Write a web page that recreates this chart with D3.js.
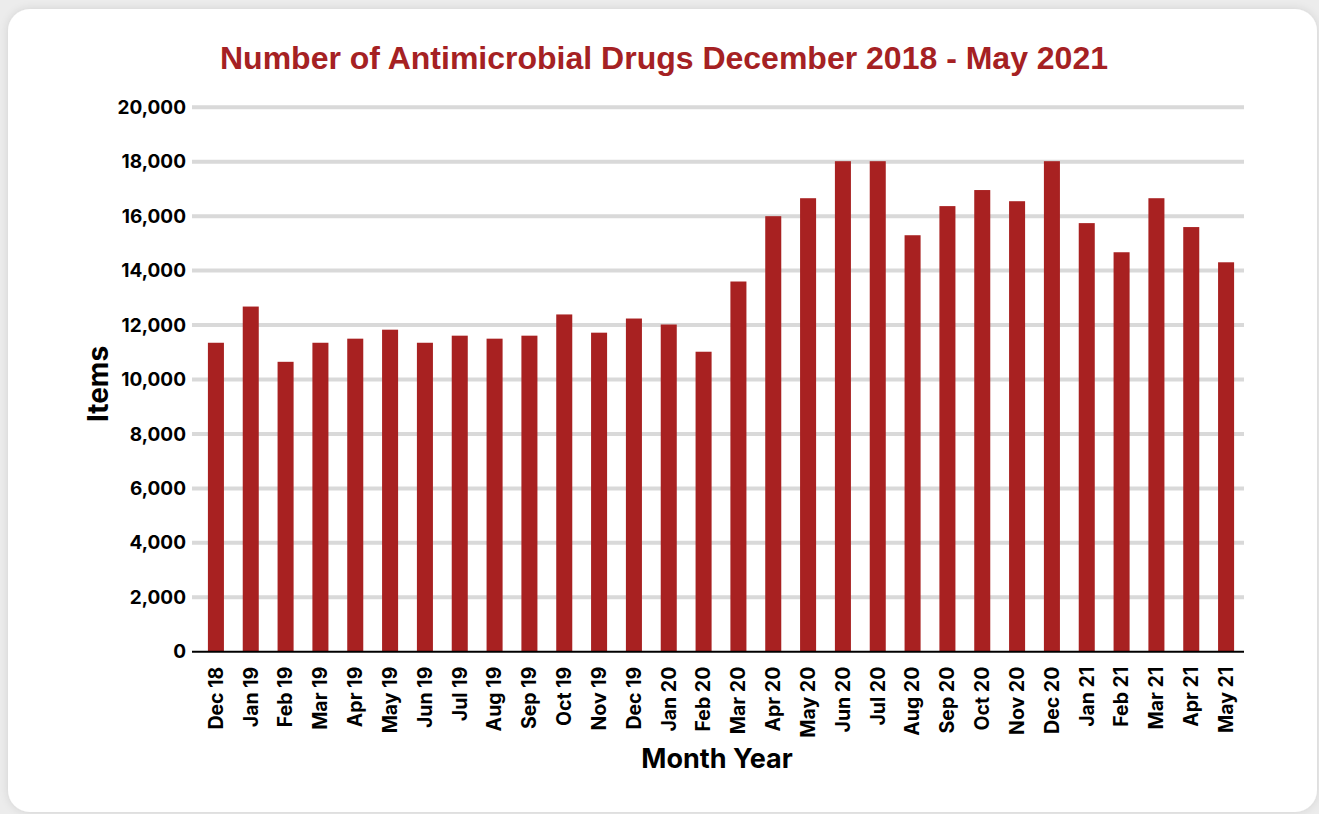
<!DOCTYPE html>
<html><head><meta charset="utf-8">
<script src="https://cdn.jsdelivr.net/npm/d3@7"></script>
<style>
html,body{margin:0;padding:0;background:#e9e9e9;width:1319px;height:814px;overflow:hidden;}
</style></head>
<body>
<svg id="chart" width="1319" height="814"></svg>
<script>
const categories = ["Dec 18","Jan 19","Feb 19","Mar 19","Apr 19","May 19","Jun 19","Jul 19","Aug 19","Sep 19","Oct 19","Nov 19","Dec 19","Jan 20","Feb 20","Mar 20","Apr 20","May 20","Jun 20","Jul 20","Aug 20","Sep 20","Oct 20","Nov 20","Dec 20","Jan 21","Feb 21","Mar 21","Apr 21","May 21"];
const items = [11350,12680,10650,11350,11500,11830,11350,11610,11500,11610,12390,11720,12240,12020,11020,13600,16000,16660,18020,18020,15300,16370,16960,16550,18020,15745,14675,16660,15600,14306];
const yTicks = [0,2000,4000,6000,8000,10000,12000,14000,16000,18000,20000];
const title = "Number of Antimicrobial Drugs December 2018 - May 2021";
const xTitle = "Month Year";
const yTitle = "Items";

const svg = d3.select("#chart");
const defs = svg.append("defs");
const f = defs.append("filter").attr("id","sh").attr("x","-5%").attr("y","-5%").attr("width","110%").attr("height","110%");
f.append("feGaussianBlur").attr("in","SourceAlpha").attr("stdDeviation",4);
f.append("feOffset").attr("dx",0).attr("dy",0).attr("result","b");
f.append("feFlood").attr("flood-color","#000").attr("flood-opacity",0.12);
f.append("feComposite").attr("in2","b").attr("operator","in");
const fm = f.append("feMerge"); fm.append("feMergeNode"); fm.append("feMergeNode").attr("in","SourceGraphic");

svg.append("rect").attr("x",0).attr("y",0).attr("width",1319).attr("height",814).attr("fill","#ececec");
svg.append("rect").attr("x",8).attr("y",9).attr("width",1309).attr("height",803).attr("rx",22).attr("fill","#fff").attr("filter","url(#sh)");

const x = d3.scaleBand().domain(categories).range([198.5,1243.5]).paddingInner(0.54).paddingOuter(0.27);
const y = d3.scaleLinear().domain([0,20000]).range([651.7,107.3]);

const font = "Inter, 'Liberation Sans', Arial, sans-serif";

// gridlines
svg.append("g").selectAll("line").data(yTicks.filter(d=>d>0)).join("line")
  .attr("x1",192).attr("x2",1244)
  .attr("y1",d=>y(d)).attr("y2",d=>y(d))
  .attr("stroke","#d9d9d9").attr("stroke-width",4);

// bars
svg.append("g").selectAll("rect").data(items).join("rect")
  .attr("x",(d,i)=>x(categories[i]))
  .attr("width",x.bandwidth())
  .attr("y",d=>y(d))
  .attr("height",d=>y(0)-y(d))
  .attr("fill","#a82121");

// y axis
const yAxis = d3.axisLeft(y).tickValues(yTicks).tickSize(0).tickPadding(6).tickFormat(d3.format(","));
const gy = svg.append("g").attr("transform","translate(192,0)").call(yAxis);
gy.select(".domain").remove();
gy.selectAll("text").attr("font-family",font).attr("font-weight","bold").attr("font-size",19).attr("fill","#000");

// x axis
const xAxis = d3.axisBottom(x).tickSize(0).tickPadding(0);
const gx = svg.append("g").attr("transform","translate(0,651.7)").call(xAxis);
gx.select(".domain").attr("d","M192,0H1244").attr("stroke","#000").attr("stroke-width",2);
gx.selectAll("text").attr("font-family",font).attr("font-weight","bold").attr("font-size",19.5).attr("fill","#000")
  .attr("transform","rotate(-90)").attr("text-anchor","end").attr("x",-15).attr("y",0).attr("dy","0.35em");

// titles
svg.append("text").attr("x",664).attr("y",69).attr("text-anchor","middle")
  .attr("font-family","'Liberation Sans', Arial, sans-serif").attr("font-weight","bold").attr("font-size",32)
  .attr("fill","#a52123").text(title);
svg.append("text").attr("x",717).attr("y",768).attr("text-anchor","middle")
  .attr("font-family",font).attr("font-weight","bold").attr("font-size",27).attr("fill","#000").text(xTitle);
svg.append("text").attr("transform","translate(108,384) rotate(-90)").attr("text-anchor","middle")
  .attr("font-family",font).attr("font-weight","bold").attr("font-size",28).attr("fill","#000").text(yTitle);
</script>
</body></html>
